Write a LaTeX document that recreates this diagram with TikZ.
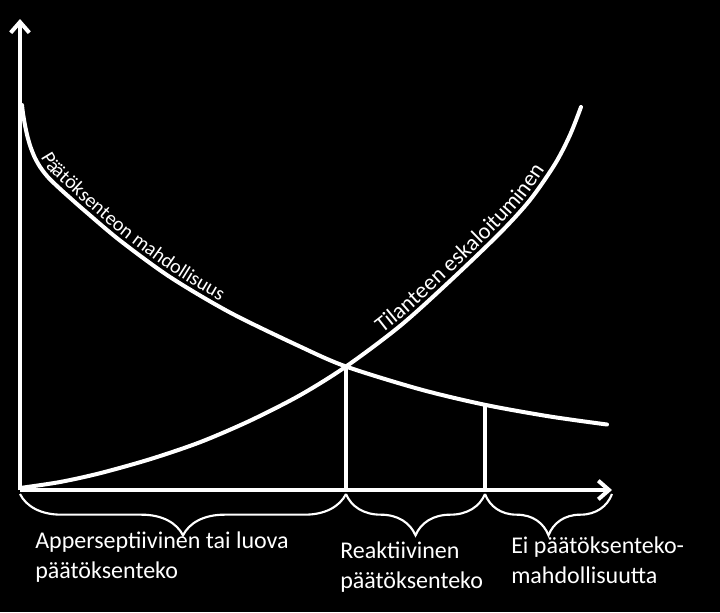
\documentclass[tikz,border=0pt]{standalone}
\usepackage{fontspec}
\setmainfont{Carlito}
\usepackage{tikz}
\tikzset{x=0.75pt, y=-0.75pt}
\usetikzlibrary{arrows.meta,decorations.pathreplacing,decorations.text}
\newcommand{\curvefont}{\fontsize{15}{18}\selectfont}
\newcommand{\bigcurvefont}{\fontsize{17}{20}\selectfont}
\newcommand{\phasetextfont}{\fontsize{18}{22}\selectfont}
\tikzset{
  axis/.style={white, line width=3pt, -{Straight Barb[length=8pt,width=14pt]}},
  curve/.style={white, line width=3pt, line cap=round},
  dropline/.style={white, line width=3pt},
  phasebrace/.style={white, line width=1.6pt, decorate, decoration={brace, mirror, amplitude=31pt}},
  phasetext/.style={white, anchor=base west, align=left, inner sep=0pt, font=\phasetextfont}
}

\begin{document}
\begin{tikzpicture}
\fill[black] (0,0) rectangle (720,612);
\useasboundingbox (0,0) rectangle (720,612);
% axes
\coordinate (O) at (20,490);
\coordinate (ytop) at (20,19);
\coordinate (xend) at (612,490);
\coordinate (cross) at (346,366.5);
\coordinate (late) at (485,404.8);
\coordinate (b1) at (346,490);
\coordinate (b2) at (485,490);
\draw[axis] (O) -- (ytop);
\draw[axis] (O) -- (xend);
% the two curves
\draw[curve] plot[smooth] coordinates {(22,105) (23,113.5) (25,125.2) (27,134.6) (29,142.1)
    (31,148.3) (35,158) (40,166.8) (45,173.6) (50,179.3) (60,188.8) (70,197.8) (85,211)
    (120,240.5) (170,277) (230,312.5) (300,346.5) (346,366.5) (420,389.3) (485,404.8)
    (550,416.5) (607,424.5)};
\path[decorate, decoration={text along path, text color=white,
    text={|\curvefont|Päätöksenteon mahdollisuus}, text align={left indent=42pt}, raise=4pt}]
  plot[smooth] coordinates {(22,106.5) (25,125.2) (29,142.1) (35,158) (45,173.8) (60,188)
    (85,211) (120,240.5) (170,277) (230,312.5) (300,346.5) (346,366.5) (420,389.3)
    (485,404.8) (550,417.1) (607,425.8)};
\draw[curve, postaction={decorate, decoration={text along path, text color=white,
    text={|\bigcurvefont|Tilanteen eskaloituminen}, text align={left indent=300pt}, raise=4pt}}]
  plot[smooth] coordinates {(20,488) (60,482) (100,473.2) (150,459.2) (200,442.2) (250,420.7)
    (300,395.2) (346,366.5) (400,326) (450,281) (500,233) (530,200) (555,164) (570,135) (581,107)};
% drop lines
\draw[dropline] (cross) -- (b1);
\draw[dropline] (late) -- (b2);
% phases
\draw[phasebrace] ([yshift=-3pt]O) -- ([yshift=-3pt]b1);
\draw[phasebrace] ([yshift=-3pt]b1) -- ([yshift=-3pt]b2);
\draw[phasebrace] ([yshift=-3pt]b2) -- ([yshift=-3pt]xend);
\node[phasetext] (apper) at (35,578) {Apperseptiivinen tai luova\\päätöksenteko};
\node[phasetext] (reakt) at (340,588) {Reaktiivinen\\päätöksenteko};
\node[phasetext] (eipaat) at (511,583) {Ei päätöksenteko-\\mahdollisuutta};
\end{tikzpicture}
\end{document}
